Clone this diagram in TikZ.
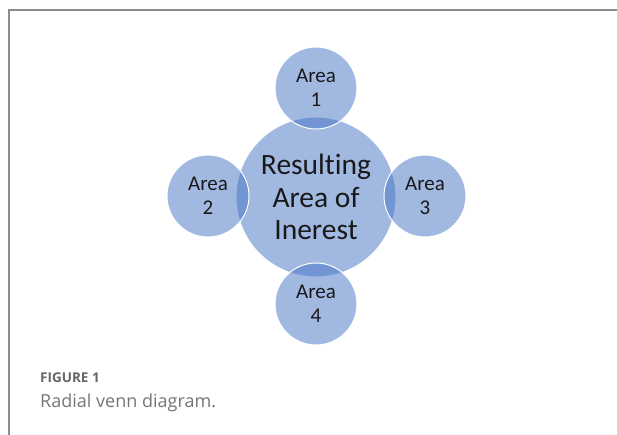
\documentclass[tikz,border=0pt]{standalone}
\usepackage{fontspec}
\setmainfont{Carlito}[Ligatures=NoCommon]
\newfontfamily\capfont{Open Sans}
\definecolor{accent}{HTML}{4472C4}
\definecolor{framegray}{HTML}{8C8C8C}
\definecolor{captiongray}{HTML}{666666}
\begin{document}
\begin{tikzpicture}[x=1pt,y=-1pt,
  bubble/.style={circle,inner sep=0pt,fill=accent,fill opacity=0.5,text opacity=1,
    draw=white,line width=1pt,align=center,text=black!90},
  hub/.style={bubble,minimum size=160pt,font=\fontsize{29.5}{32.5}\selectfont},
  sat/.style={bubble,minimum size=82pt,font=\fontsize{21}{24}\selectfont}]
  \useasboundingbox (0,0) rectangle (617,435);
  % outer frame (top and left edges)
  \coordinate (fb) at (9,436);
  \coordinate (fc) at (9,10);
  \coordinate (fr) at (618,10);
  \draw[framegray,line width=1.4pt] (fb) -- (fc) -- (fr);
  % radial venn
  \node[hub] (hub) at (316,197) {Resulting\\Area of\\Inerest};
  \node[sat] (a1) at (316,88)  {Area\\1};
  \node[sat] (a2) at (208,196) {Area\\2};
  \node[sat] (a3) at (425,196) {Area\\3};
  \node[sat] (a4) at (316,304) {Area\\4};
  % caption
  \node[anchor=west,inner sep=0pt,text=captiongray,font=\capfont\bfseries\fontsize{13.5}{16}\selectfont] (fig) at (40,378) {FIGURE 1};
  \node[anchor=west,inner sep=0pt,text=captiongray!90,font=\capfont\fontsize{18}{22}\selectfont] (cap) at (40,403) {Radial venn diagram.};
\end{tikzpicture}
\end{document}
